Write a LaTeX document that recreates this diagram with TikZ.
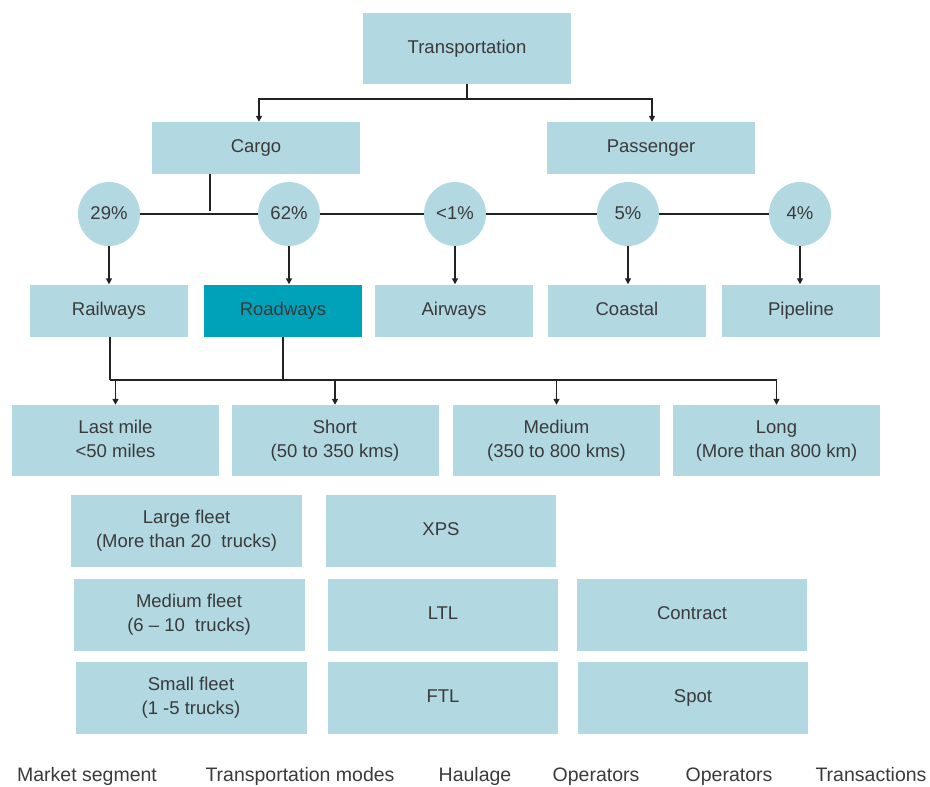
\documentclass[tikz,border=0pt]{standalone}
\usepackage{fontspec}
\setmainfont{Liberation Sans}
\usetikzlibrary{arrows.meta,shapes.geometric}
\definecolor{lb}{HTML}{B2D8E2}
\definecolor{teal}{HTML}{00A2BA}
\definecolor{txt}{HTML}{3A3A3A}
\definecolor{ln}{HTML}{222222}
\newcommand{\ms}{\rule[-4pt]{0pt}{17.5pt}}
\tikzset{
  box/.style={fill=lb,draw=none,inner sep=0pt,align=center,text=txt,font=\fontsize{18.5}{24}\selectfont},
  one/.style={text height=13.5pt,text depth=4pt},
  pct/.style={ellipse,fill=lb,draw=none,inner sep=0pt,minimum width=62pt,minimum height=64pt,text=txt,font=\fontsize{18.5}{20}\selectfont,text height=13.5pt,text depth=3pt},
  conn/.style={draw=ln,line width=1.5pt},
  arr/.style={conn,-{Triangle[length=6pt,width=6pt]}},
  lab/.style={text=txt,inner sep=0pt,font=\fontsize{19.5}{20}\selectfont,text height=14pt,text depth=4pt}
}
\begin{document}
\begin{tikzpicture}[x=1pt,y=-1pt]
\useasboundingbox (0,0) rectangle (930,787);
% level 1 and 2
\node[box,one,minimum width=208pt,minimum height=71pt] (T) at (467,48.5) {Transportation};
\node[box,one,minimum width=208pt,minimum height=52pt] (C) at (256,148) {Cargo};
\node[box,one,minimum width=208pt,minimum height=52pt] (P) at (651,148) {Passenger};
% percentages
\node[pct] (p29) at (109,214) {29\%};
\node[pct] (p62) at (289,214) {62\%};
\node[pct] (p1) at (455,214) {<1\%};
\node[pct] (p5) at (628,214) {5\%};
\node[pct] (p4) at (800,214) {4\%};
% modes
\node[box,one,minimum width=158pt,minimum height=52pt] (Rail) at (109,310.5) {Railways};
\node[box,one,fill=teal,minimum width=158pt,minimum height=52pt] (Road) at (283,310.5) {Roadways};
\node[box,one,minimum width=158pt,minimum height=52pt] (Air) at (454,310.5) {Airways};
\node[box,one,minimum width=158pt,minimum height=52pt] (Coast) at (627,310.5) {Coastal};
\node[box,one,minimum width=158pt,minimum height=52pt] (Pipe) at (801,310.5) {Pipeline};
% haulage
\node[box,minimum width=207pt,minimum height=71pt] (LM) at (115.5,440.5) {\ms Last mile\\\ms <50 miles};
\node[box,minimum width=207pt,minimum height=71pt] (Sh) at (335,440.5) {\ms Short\\\ms (50 to 350 kms)};
\node[box,minimum width=207pt,minimum height=71pt] (Me) at (556.5,440.5) {\ms Medium\\\ms (350 to 800 kms)};
\node[box,minimum width=207pt,minimum height=71pt] (Lo) at (776.5,440.5) {\ms Long\\\ms (More than 800 km)};
% fleets
\node[box,minimum width=231pt,minimum height=72pt] (LF) at (186.5,531) {\ms Large fleet\\\ms (More than 20\ \ trucks)};
\node[box,minimum width=231pt,minimum height=72pt] (MF) at (189,614.5) {\ms Medium fleet\\\ms (6 -- 10\ \ trucks)};
\node[box,minimum width=231pt,minimum height=72pt] (SF) at (191,697.5) {\ms Small fleet\\\ms (1 -5 trucks)};
\node[box,one,minimum width=230pt,minimum height=72pt] (XPS) at (441,531) {XPS};
\node[box,one,minimum width=230pt,minimum height=72pt] (LTL) at (443,614.5) {LTL};
\node[box,one,minimum width=230pt,minimum height=72pt] (FTL) at (443,697.5) {FTL};
\node[box,one,minimum width=230pt,minimum height=72pt] (Con) at (692,614.5) {Contract};
\node[box,one,minimum width=230pt,minimum height=72pt] (Spot) at (693,697.5) {Spot};
% bottom labels
\node[lab] (b1) at (87,776) {Market segment};
\node[lab] (b2) at (300,776) {Transportation modes};
\node[lab] (b3) at (475,776) {Haulage};
\node[lab] (b4) at (596,776) {Operators};
\node[lab] (b5) at (729,776) {Operators};
\node[lab] (b6) at (871,776) {Transactions};
% connectors level 1
\coordinate (tj) at (467,99);
\draw[conn] (T.south) -- (tj);
\draw[arr] (tj) -| (C.north -| 259,0);
\draw[arr] (tj) -| (P.north -| 652,0);
% percentage line
\coordinate (cj) at (210,211);
\draw[conn] (cj |- C.south) -- (cj);
\draw[conn] (p29.east) -- (p62.west);
\draw[conn] (p62.east) -- (p1.west);
\draw[conn] (p1.east) -- (p5.west);
\draw[conn] (p5.east) -- (p4.west);
% circles to modes
\foreach \c/\b in {p29/Rail,p62/Road,p1/Air,p5/Coast,p4/Pipe}
  \draw[arr] (\c.south) -- (\c.south |- \b.north);
% modes to haulage
\coordinate (rj1) at (110,380);
\coordinate (rj2) at (283,380);
\coordinate (rj3) at (776.5,380);
\draw[conn] (rj1 |- Rail.south) -- (rj1);
\draw[conn] (Road.south) -- (rj2);
\draw[conn] (rj1) -- (rj3);
\foreach \b in {LM,Sh,Me,Lo}
  \draw[arr] (\b.north |- rj1) -- (\b.north);
\end{tikzpicture}
\end{document}
